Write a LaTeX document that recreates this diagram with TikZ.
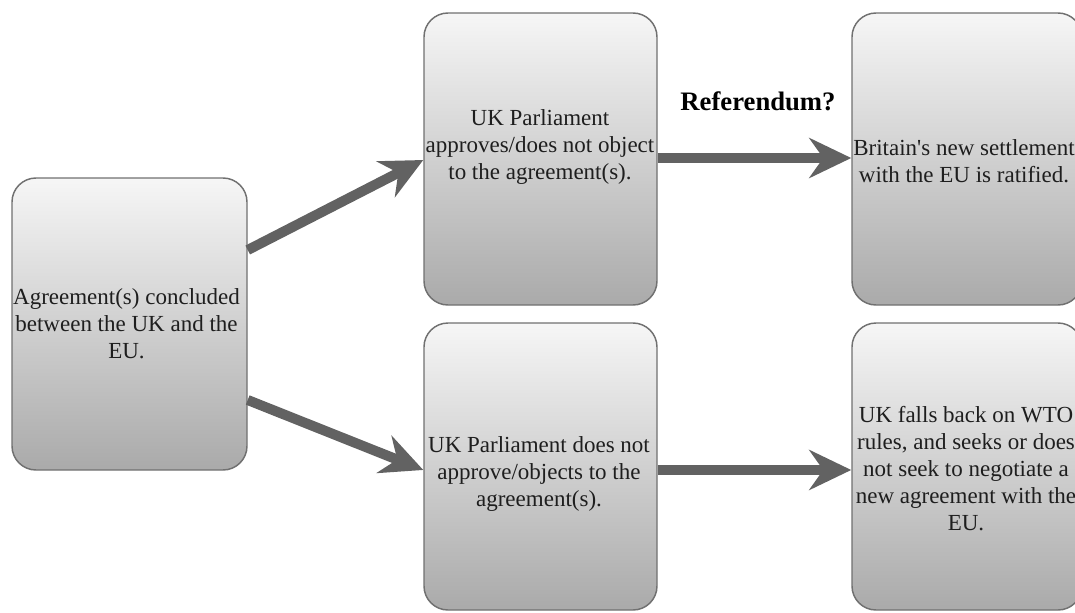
\documentclass[tikz,border=0pt]{standalone}
\usepackage{fontspec}
\setmainfont{Liberation Serif}
\usetikzlibrary{arrows.meta}
\definecolor{boxtop}{RGB}{246,246,246}
\definecolor{boxbot}{RGB}{170,170,170}
\definecolor{boxline}{RGB}{112,112,112}
\definecolor{arrowcol}{RGB}{98,98,98}
\definecolor{txtcol}{RGB}{30,30,30}
\tikzset{
  box/.style={draw=boxline, line width=1.1pt, rounded corners=18pt,
    top color=boxtop, bottom color=boxbot, inner sep=0pt},
  txt/.style={align=center, inner sep=0pt, text=txtcol,
    font=\fontsize{17.25pt}{20.25pt}\selectfont},
  bigarrow/.style={draw=arrowcol, line width=7.5pt,
    -{Stealth[length=31.5pt, width=30pt, inset=10.5pt, fill=arrowcol]}},
}
\begin{document}
\begin{tikzpicture}[x=0.75pt, y=-0.75pt]
\useasboundingbox (0,0) rectangle (1075,612);
% boxes
\node[box, minimum width=176.25pt, minimum height=219pt] (L) at (129.5,324) {};
\node[box, minimum width=174.75pt, minimum height=219pt] (M1) at (540.5,159) {};
\node[box, minimum width=172.5pt, minimum height=219pt] (R1) at (967,159) {};
\node[box, minimum width=174.75pt, minimum height=215.25pt] (M2) at (540.5,466.5) {};
\node[box, minimum width=172.5pt, minimum height=215.25pt] (R2) at (967,466.5) {};
% texts
\node[txt] (tL) at (126.5,324) {Agreement(s) concluded\\between the UK and the\\EU.};
\node[txt] (tM1) at (540,147) {UK Parliament\\approves/does not object\\to the agreement(s).};
\node[txt] (tR1) at (964,161) {Britain\textquotesingle s new settlement\\with the EU is ratified.};
\node[txt] (tM2) at (539,473.5) {UK Parliament does not\\approve/objects to the\\agreement(s).};
\node[txt] (tR2) at (966,469) {UK falls back on WTO\\rules, and seeks or does\\not seek to negotiate a\\new agreement with the\\EU.};
\node[txt, font=\fontsize{20pt}{24pt}\selectfont\bfseries, text=black] (ref) at (758,101) {Referendum?};
% arrows
\draw[bigarrow] ([yshift=55.5pt]L.east) -- ([yshift=-0.75pt]M1.west);
\draw[bigarrow] ([yshift=-57pt]L.east) -- ([yshift=-2.6pt]M2.west);
\draw[bigarrow] ([yshift=0.75pt]M1.east) -- ([yshift=0.75pt]R1.west);
\draw[bigarrow] ([yshift=-2.6pt]M2.east) -- ([yshift=-2.6pt]R2.west);
\end{tikzpicture}
\end{document}
